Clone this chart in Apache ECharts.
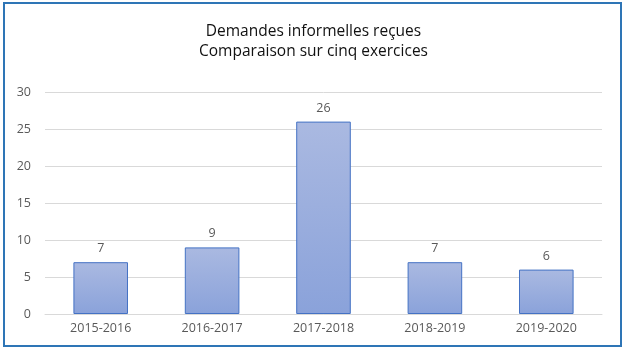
<!DOCTYPE html>
<html><head><meta charset="utf-8">
<script src="https://cdn.jsdelivr.net/npm/echarts@6/dist/echarts.min.js"></script>
<style>
html,body{margin:0;padding:0;background:#fff;}
#frame{position:absolute;left:3px;top:2px;width:615px;height:341px;border:2px solid #2E75B6;}
#chart{position:absolute;left:0;top:0;width:627px;height:352px;}
</style></head>
<body>
<div id="frame"></div>
<div id="chart"></div>
<script>
const categories = ['2015-2016','2016-2017','2017-2018','2018-2019','2019-2020'];
const values = [7, 9, 26, 7, 6];
const titleLines = ['Demandes informelles reçues', 'Comparaison sur cinq exercices'];

const chart = echarts.init(document.getElementById('chart'));
chart.setOption({
  animation: false,
  textStyle: { fontFamily: 'Open Sans' },
  title: {
    text: titleLines.join('\n'),
    left: 'center', top: 17,
    textStyle: { fontFamily: 'Open Sans', fontSize: 15.5, fontWeight: 'normal', color: '#111', lineHeight: 20 }
  },
  grid: { left: 45, right: 25, top: 92, bottom: 38 },
  xAxis: {
    type: 'category', data: categories,
    axisLine: { lineStyle: { color: '#D9D9D9' } },
    axisTick: { show: false },
    axisLabel: { color: '#595959', fontSize: 12.5, margin: 8 }
  },
  yAxis: {
    type: 'value', min: 0, max: 30, interval: 5,
    axisLine: { show: false }, axisTick: { show: false },
    axisLabel: { color: '#595959', fontSize: 12.5, margin: 14 },
    splitLine: { lineStyle: { color: '#D9D9D9' } }
  },
  series: [{
    type: 'bar', data: values, barWidth: '49%',
    itemStyle: {
      borderColor: '#4472C4', borderWidth: 1,
      color: new echarts.graphic.LinearGradient(0,0,0,1,[
        {offset:0,color:'#AAB9E1'},{offset:1,color:'#8AA2DA'}])
    },
    label: { show: true, position: 'top', distance: 7, color: '#595959', fontSize: 12.5 }
  }]
});
</script>
</body></html>
